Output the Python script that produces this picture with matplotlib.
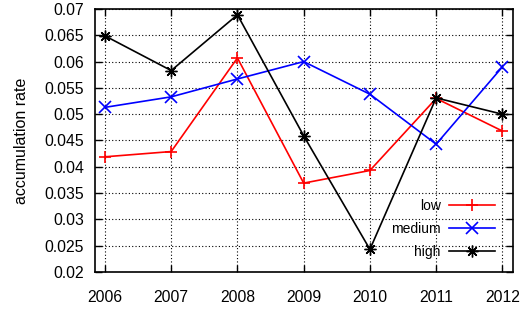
import matplotlib
matplotlib.use("Agg")
import matplotlib.pyplot as plt

plt.rcParams['font.family'] = ['Liberation Sans', 'DejaVu Sans']

years = [2006, 2007, 2008, 2009, 2010, 2011, 2012]
low = [0.0419, 0.0429, 0.0607, 0.0369, 0.0393, 0.0530, 0.0468]
medium = [0.0513, 0.0533, 0.0567, 0.0600, 0.0538, 0.0443, 0.0590]
high = [0.0649, 0.0583, 0.0689, 0.0459, 0.0243, 0.0531, 0.0500]
yticks = [0.02, 0.025, 0.03, 0.035, 0.04, 0.045, 0.05, 0.055, 0.06, 0.065, 0.07]
ytick_labels = ['0.02', '0.025', '0.03', '0.035', '0.04', '0.045', '0.05',
                '0.055', '0.06', '0.065', '0.07']

fig = plt.figure(figsize=(5.24, 3.14), dpi=100)
ax = fig.add_axes([0.1813, 0.1338, 0.7977, 0.8375])

ax.plot(years, low, color='red', lw=1.2, marker='+', ms=9, mew=1.2, label='low')
ax.plot(years, medium, color='blue', lw=1.2, marker='x', ms=8, mew=1.2, label='medium')
ax.plot(years, high, color='black', lw=1.2, marker=(8, 2, 0), ms=8.5, mew=1.0, label='high')

ax.set_xlim(2005.85, 2012.16)
ax.set_ylim(0.02, 0.07)
ax.set_xticks(years)
ax.set_xticklabels([str(y) for y in years])
ax.set_yticks(yticks)
ax.set_yticklabels(ytick_labels)
ax.tick_params(direction='in', top=True, right=True, length=5, width=1,
               labelsize=11.3, colors='black')
ax.tick_params(axis='x', pad=13)
ax.tick_params(axis='y', pad=8)
ax.grid(True, color='black', linestyle=(0, (1, 2)), linewidth=0.8)
for s in ax.spines.values():
    s.set_linewidth(1.2)

ax.set_ylabel('accumulation rate', fontsize=11.5, labelpad=11)

leg = ax.legend(loc='lower right', bbox_to_anchor=(0.957, 0.049),
                frameon=False, markerfirst=False,
                fontsize=10, handlelength=3.3, borderaxespad=0, borderpad=0,
                labelspacing=0.65, handletextpad=0.6)
for t in leg.get_texts():
    t.set_ha('right')

fig.savefig('out.png', dpi=100)
